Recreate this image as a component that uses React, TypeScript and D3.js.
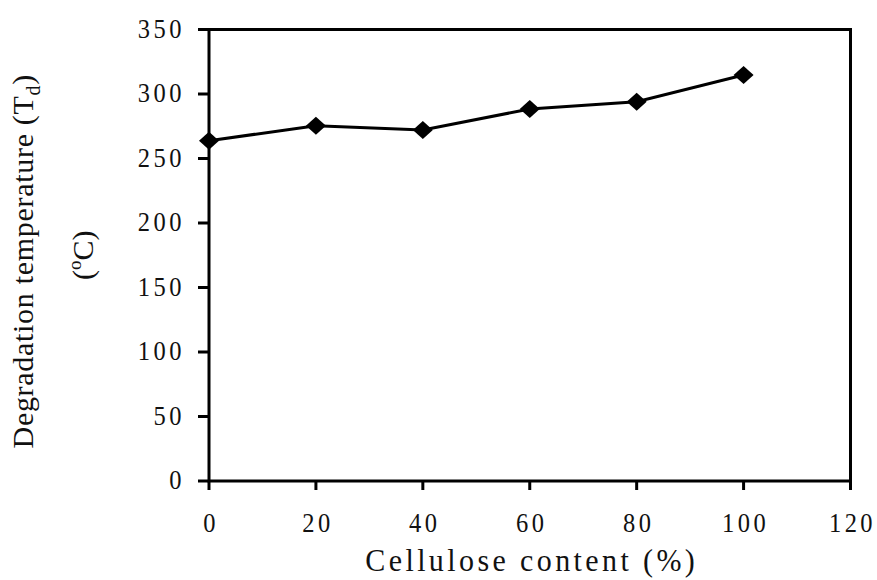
import React from "react";
import * as d3 from "d3";

const cellulose = [0, 20, 40, 60, 80, 100];
const degradationTemp = [263.8, 275.4, 272.1, 288.4, 294.0, 314.7];
const xTicks = [0, 20, 40, 60, 80, 100, 120];
const yTicks = [0, 50, 100, 150, 200, 250, 300, 350];

const W = 877;
const H = 580;
const FONT = "'Liberation Serif', 'Times New Roman', serif";

export default function App() {
  const x = d3.scaleLinear().domain([0, 120]).range([209, 850.5]);
  const y = d3.scaleLinear().domain([0, 350]).range([481, 29.5]);

  const line = d3
    .line<number>()
    .x((_, i) => x(cellulose[i]))
    .y((d) => y(d));

  const diamond = (cx: number, cy: number) =>
    `M${cx},${cy - 9}L${cx + 10},${cy}L${cx},${cy + 9}L${cx - 10},${cy}Z`;

  return (
    <svg
      width={W}
      height={H}
      style={{ position: "absolute", left: 0, top: 0, background: "#fff" }}
    >
      <rect x={0} y={0} width={W} height={H} fill="#fff" />
      <rect
        x={x(0)}
        y={y(350)}
        width={x(120) - x(0)}
        height={y(0) - y(350)}
        fill="none"
        stroke="#000"
        strokeWidth={3}
      />
      {yTicks.map((t) => (
        <g key={"y" + t}>
          <line x1={x(0) - 11} x2={x(0)} y1={y(t)} y2={y(t)} stroke="#000" strokeWidth={3} />
          <text
            transform={`translate(185,${y(t) + 8}) scale(1,1.08)`}
            textAnchor="end"
            fontFamily={FONT}
            fontSize={24.5}
            letterSpacing={3.5}
            fill="#111"
          >
            {t}
          </text>
        </g>
      ))}
      {xTicks.map((t) => (
        <g key={"x" + t}>
          <line x1={x(t)} x2={x(t)} y1={y(0)} y2={y(0) + 9} stroke="#000" strokeWidth={3} />
          <text
            transform={`translate(${x(t) + 2},532) scale(1,1.08)`}
            textAnchor="middle"
            fontFamily={FONT}
            fontSize={24.5}
            letterSpacing={3.5}
            fill="#111"
          >
            {t}
          </text>
        </g>
      ))}
      <path d={line(degradationTemp) || ""} fill="none" stroke="#000" strokeWidth={3} />
      {degradationTemp.map((v, i) => (
        <path key={"m" + i} d={diamond(x(cellulose[i]), y(v))} fill="#000" />
      ))}
      <text
        transform={`translate(${(x(0) + x(120)) / 2 + 2},571) scale(1,1.08)`}
        textAnchor="middle"
        fontFamily={FONT}
        fontSize={30}
        letterSpacing={3.4}
        fill="#111"
      >
        Cellulose content (%)
      </text>
      <text
        transform={`translate(33,${(y(0) + y(350)) / 2 + 6}) rotate(-90)`}
        textAnchor="middle"
        fontFamily={FONT}
        fontSize={30}
        letterSpacing={0.7}
        fill="#111"
      >
        Degradation temperature (T
        <tspan fontSize={20} dy={7}>d</tspan>
        <tspan dy={-7}>)</tspan>
      </text>
      <text
        transform={`translate(93,${(y(0) + y(350)) / 2}) rotate(-90)`}
        textAnchor="middle"
        fontFamily={FONT}
        fontSize={30}
        fill="#111"
      >
        (<tspan fontSize={19} dy={-12}>o</tspan>
        <tspan dy={12}>C)</tspan>
      </text>
    </svg>
  );
}
